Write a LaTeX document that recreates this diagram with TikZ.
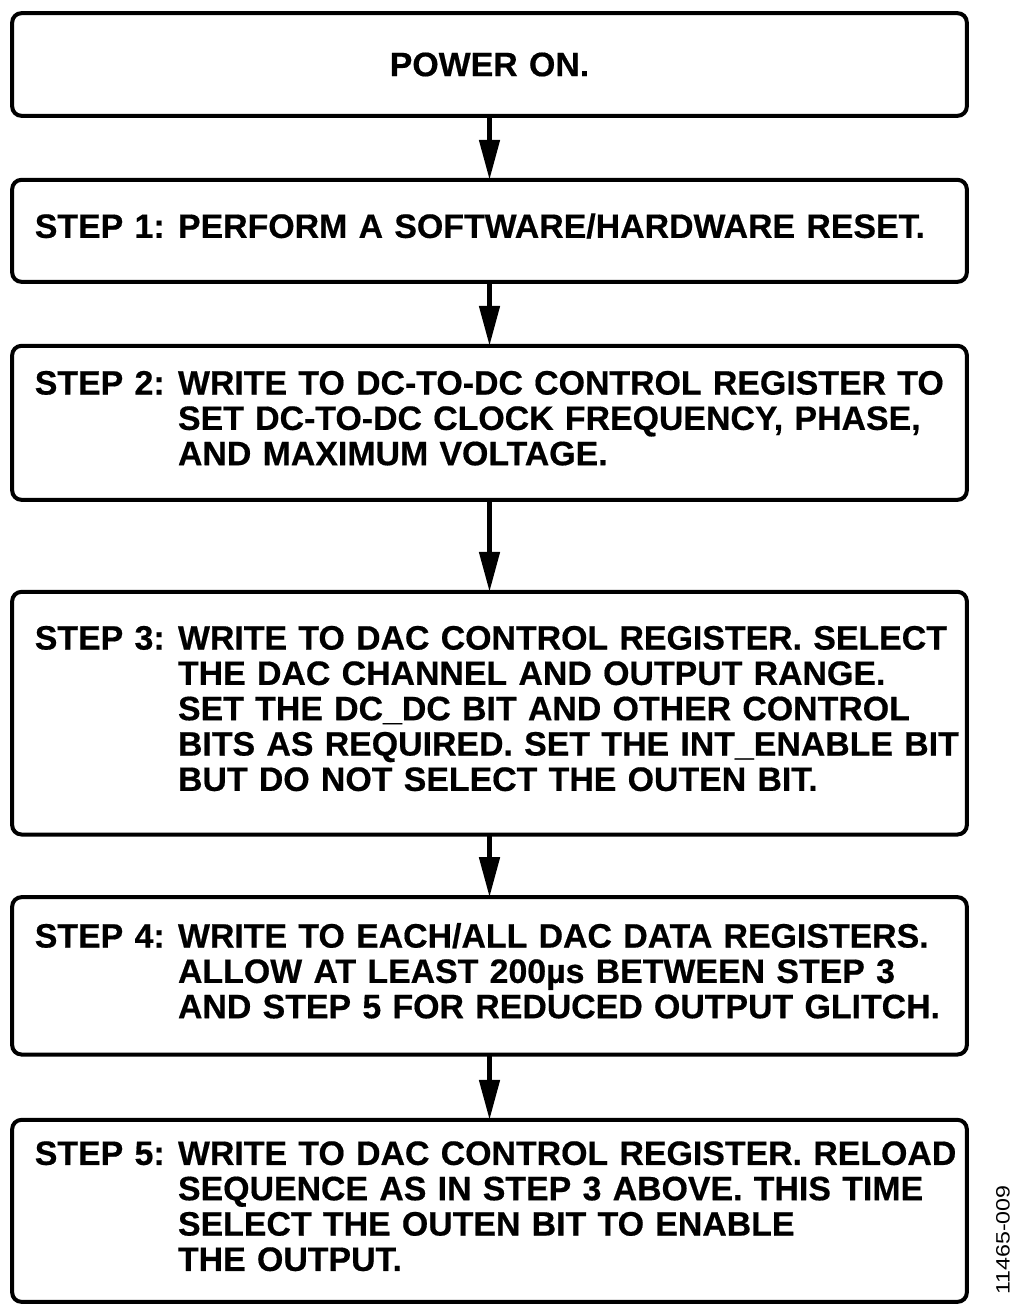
\documentclass[tikz,border=0pt]{standalone}
\usepackage{fontspec}
\setmainfont[BoldFeatures={FakeBold=0.5}]{Liberation Sans}
\usepackage{tikz}
\usetikzlibrary{shapes.misc, arrows.meta, positioning, calc}
\tikzset{
  stepbox/.style={rectangle,draw=black,line width=3pt,rounded corners=7pt,outer sep=0pt,
    minimum width=716pt,text width=682pt,inner xsep=17pt,align=left,
    font=\fontsize{25.4pt}{26.5pt}\selectfont\bfseries},
  flow/.style={line width=3.6pt,-{Triangle[width=15pt,length=30pt]}},
  figno/.style={rotate=90,inner sep=0pt,font=\fontsize{14.5pt}{14.5pt}\selectfont},
}
\newcommand{\steplines}[2]{\begin{tabular}{@{}l@{\hspace{10pt}}l@{}}#1 & #2\end{tabular}}

\begin{document}
\begin{tikzpicture}[x=0.75pt,y=-0.75pt]
	    \useasboundingbox (0,0) rectangle (1024,1316);
	    \node[stepbox,align=center,minimum height=77pt] (A) at (489.5,64.5) {POWER ON.};
	    \node[stepbox,minimum height=76.5pt,below=48pt of A] (B)
	    	{\steplines{STEP 1:}{PERFORM A SOFTWARE/HARDWARE RESET.}};
	    \node[stepbox,minimum height=115.5pt,below=48pt of B] (C)
	    	{\steplines{STEP 2:}{WRITE TO DC-TO-DC CONTROL REGISTER TO\\
	    	& SET DC-TO-DC CLOCK FREQUENCY, PHASE,\\ & AND MAXIMUM VOLTAGE.}};
	    \node[stepbox,minimum height=182pt,below=69pt of C] (D)
	    	{\steplines{STEP 3:}{WRITE TO DAC CONTROL REGISTER. SELECT\\
	    	& THE DAC CHANNEL AND OUTPUT RANGE.\\
	    	& SET THE DC\_DC BIT AND OTHER CONTROL\\
	    	& BITS AS REQUIRED. SET THE INT\_ENABLE BIT\\
	    	& BUT DO NOT SELECT THE OUTEN BIT.}};
	    \node[stepbox,minimum height=118pt,below=47pt of D] (E)
	    	{\steplines{STEP 4:}{WRITE TO EACH/ALL DAC DATA REGISTERS.\\
	    	& ALLOW AT LEAST 200µs BETWEEN STEP 3\\
	    	& AND STEP 5 FOR REDUCED OUTPUT GLITCH.}};
	    \node[stepbox,minimum height=136.5pt,below=49pt of E] (F)
	    	{\steplines{STEP 5:}{WRITE TO DAC CONTROL REGISTER. RELOAD\\
	    	& SEQUENCE AS IN STEP 3 ABOVE. THIS TIME\\
	    	& SELECT THE OUTEN BIT TO ENABLE\\
	    	& THE OUTPUT.}};
	    \node[figno] (N) at (1003,1240) {\scalebox{1.2}[1]{11465-009}};
	    \draw[flow] (A) -- (B);
	    \draw[flow] (B) -- (C);
	    \draw[flow] (C) -- (D);
	    \draw[flow] (D) -- (E);
	    \draw[flow] (E) -- (F);
	\end{tikzpicture}
\end{document}
